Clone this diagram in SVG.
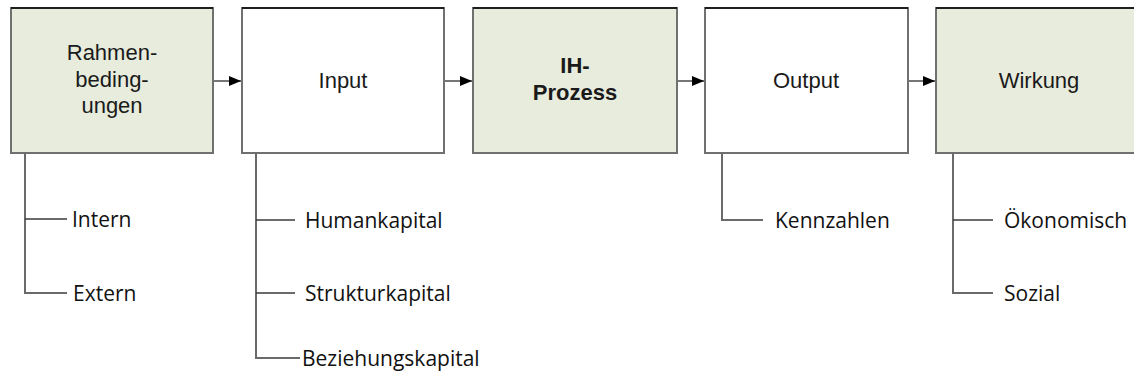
<svg xmlns="http://www.w3.org/2000/svg" width="1134" height="378" viewBox="0 0 1134 378">
  <style>
    .box { stroke: #707070; stroke-width: 2; }
    .green { fill: #e8ecdd; }
    .white { fill: #ffffff; }
    .topedge { stroke: #1e1e1e; stroke-width: 2; }
    .label { font-family: "Liberation Sans", Arial, sans-serif; font-size: 22px; fill: #1a1a1a; text-anchor: middle; }
    .bold { font-weight: bold; }
    .flow { stroke: #4a4a4a; stroke-width: 1.5; fill: none; }
    .tree { stroke: #6a6a6a; stroke-width: 2; fill: none; }
    .branch { stroke: #3a3a3a; stroke-width: 1.5; fill: none; }
    .item { font-family: "Open Sans", "Noto Sans", sans-serif; font-size: 21px; fill: #111111; dominant-baseline: central; }
  </style>
  <defs>
    <marker id="arrow" markerUnits="userSpaceOnUse" markerWidth="12" markerHeight="10" refX="12" refY="5" orient="auto">
      <path d="M0,0 L12,5 L0,10 Z" fill="#000000"/>
    </marker>
  </defs>
  <rect width="1134" height="378" fill="#ffffff"/>

  <!-- flow connectors between the stages -->
  <g id="connectors">
    <line class="flow" x1="213" y1="81" x2="241" y2="81" marker-end="url(#arrow)"/>
    <line class="flow" x1="444" y1="81" x2="472" y2="81" marker-end="url(#arrow)"/>
    <line class="flow" x1="677" y1="81" x2="704" y2="81" marker-end="url(#arrow)"/>
    <line class="flow" x1="908" y1="81" x2="935" y2="81" marker-end="url(#arrow)"/>
  </g>

  <!-- stage boxes -->
  <g id="rahmenbedingungen">
    <rect class="box green" x="11" y="8" width="202" height="145"/>
    <line class="topedge" x1="11" y1="8" x2="213" y2="8"/>
    <text class="label" x="112" y="60">Rahmen-</text>
    <text class="label" x="112" y="87">beding-</text>
    <text class="label" x="112" y="113">ungen</text>
  </g>
  <g id="input">
    <rect class="box white" x="242" y="8" width="202" height="145"/>
    <line class="topedge" x1="242" y1="8" x2="444" y2="8"/>
    <text class="label" x="343" y="88">Input</text>
  </g>
  <g id="ih-prozess">
    <rect class="box green" x="473" y="8" width="204" height="145"/>
    <line class="topedge" x1="473" y1="8" x2="677" y2="8"/>
    <text class="label bold" x="575" y="73">IH-</text>
    <text class="label bold" x="575" y="100">Prozess</text>
  </g>
  <g id="output">
    <rect class="box white" x="705" y="8" width="203" height="145"/>
    <line class="topedge" x1="705" y1="8" x2="908" y2="8"/>
    <text class="label" x="806" y="88">Output</text>
  </g>
  <g id="wirkung">
    <rect class="box green" x="936" y="8" width="204" height="145"/>
    <line class="topedge" x1="936" y1="8" x2="1140" y2="8"/>
    <text class="label" x="1039" y="88">Wirkung</text>
  </g>

  <!-- breakdown trees under the stages -->
  <g id="tree-rahmenbedingungen">
    <path class="tree" d="M25,153 V293 H67"/>
    <line class="branch" x1="25" y1="219" x2="67" y2="219"/>
    <text class="item" x="72" y="219">Intern</text>
    <text class="item" x="73" y="293">Extern</text>
  </g>
  <g id="tree-input">
    <path class="tree" d="M256,153 V358 H300"/>
    <line class="branch" x1="256" y1="220" x2="295" y2="220"/>
    <line class="branch" x1="256" y1="293" x2="295" y2="293"/>
    <text class="item" x="305" y="220">Humankapital</text>
    <text class="item" x="305" y="293">Strukturkapital</text>
    <text class="item" x="302" y="358">Beziehungskapital</text>
  </g>
  <g id="tree-output">
    <path class="tree" d="M722,153 V220 H763"/>
    <text class="item" x="775" y="220">Kennzahlen</text>
  </g>
  <g id="tree-wirkung">
    <path class="tree" d="M953,153 V293 H993"/>
    <line class="branch" x1="953" y1="220" x2="993" y2="220"/>
    <text class="item" x="1004" y="220">Ökonomisch</text>
    <text class="item" x="1004" y="293">Sozial</text>
  </g>
</svg>
